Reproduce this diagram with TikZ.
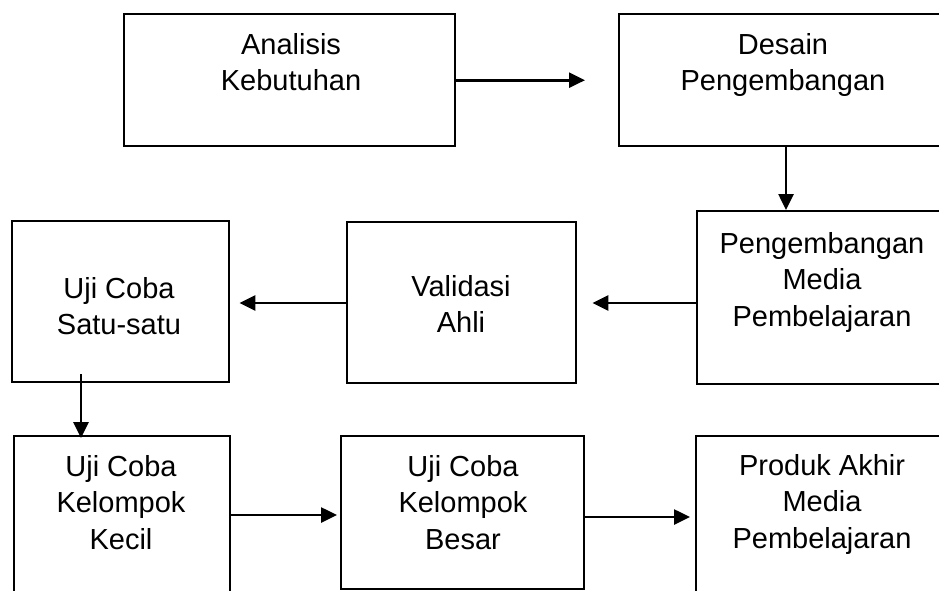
\documentclass[tikz,border=0pt]{standalone}
\usepackage{fontspec}
\setmainfont{Liberation Sans}
\usetikzlibrary{arrows.meta}
\begin{document}
\begin{tikzpicture}[x=1pt,y=-1pt,
  box/.style={draw=black,line width=2.4pt,rectangle,inner sep=0pt,anchor=north west},
  lbl/.style={inner sep=0pt,align=center,anchor=north,font=\fontsize{29}{36.5}\selectfont},
  arr/.style={line width=2.6pt,-{Triangle[length=16pt,width=15pt]}}]
\useasboundingbox (0,0) rectangle (939,590);
\clip (0,0) rectangle (939,590);

% process boxes (some run past the page edge)
\node[box,minimum width=331pt,minimum height=132pt] (ana) at (123,13) {};
\node[box,minimum width=340pt,minimum height=132pt] (des) at (618,13) {};
\node[box,minimum width=260pt,minimum height=173pt] (peng) at (696,210) {};
\node[box,minimum width=229pt,minimum height=161pt] (val) at (346,221) {};
\node[box,minimum width=217pt,minimum height=161pt] (sat) at (11,220) {};
\node[box,minimum width=216pt,minimum height=180pt] (kec) at (13,435) {};
\node[box,minimum width=243pt,minimum height=153pt] (bes) at (340,435) {};
\node[box,minimum width=260pt,minimum height=180pt] (pro) at (695,435) {};

% box texts
\node[lbl] (tana) at (291,33) {Analisis\\Kebutuhan};
\node[lbl] (tdes) at (783,33) {Desain\\Pengembangan};
\node[lbl] (tpeng) at (822,232) {Pengembangan\\Media\\Pembelajaran};
\node[lbl] (tval) at (461,275) {Validasi\\Ahli};
\node[lbl] (tsat) at (119,277) {Uji Coba\\Satu-satu};
\node[lbl] (tkec) at (121,455) {Uji Coba\\Kelompok\\Kecil};
\node[lbl] (tbes) at (463,455) {Uji Coba\\Kelompok\\Besar};
\node[lbl] (tpro) at (822,454) {Produk Akhir\\Media\\Pembelajaran};

% flow arrows
\draw[arr,shorten >=33pt] (ana.east) -- (des.west);
\draw[arr] (des.south -| 786,0) -- (peng.north -| 786,0);
\draw[arr,shorten >=15pt] (peng.west |- 0,303) -- (val.east |- 0,303);
\draw[arr,shorten >=9pt] (val.west |- 0,303) -- (sat.east |- 0,303);
\draw[arr,shorten <=-9pt,shorten >=-3pt] (sat.south -| 81,0) -- (kec.north -| 81,0);
\draw[arr,shorten >=3pt] (kec.east |- 0,515) -- (bes.west |- 0,515);
\draw[arr,shorten >=5pt] (bes.east |- 0,517) -- (pro.west |- 0,517);
\end{tikzpicture}
\end{document}
